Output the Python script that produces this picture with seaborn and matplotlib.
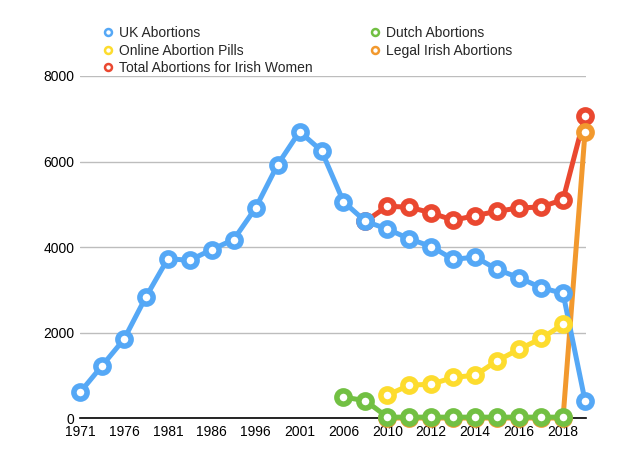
import numpy as np
import pandas as pd
import matplotlib
matplotlib.use("Agg")
import matplotlib.pyplot as plt
import seaborn as sns
from matplotlib.lines import Line2D

# categories (every other label shown on the axis)
years = ["1971", "1974", "1976", "1979", "1981", "1984", "1986", "1991",
         "1996", "1999", "2001", "2004", "2006", "2008", "2010", "2011",
         "2012", "2013", "2014", "2015", "2016", "2017", "2018", "2019"]

nan = np.nan
uk = [600, 1220, 1840, 2830, 3725, 3690, 3940, 4175, 4915, 5925, 6700, 6250,
      5060, 4600, 4420, 4190, 4010, 3710, 3765, 3475, 3280, 3050, 2915, 405]
dutch = [nan] * 12 + [490, 405, 20, 20, 20, 20, 20, 20, 20, 20, 20, nan]
pills = [nan] * 14 + [535, 770, 790, 950, 1000, 1340, 1610, 1860, 2190, nan]
legal = [nan] * 14 + [0, 0, 0, 0, 0, 0, 0, 0, 0, 6685]
total = [nan] * 13 + [4600, 4955, 4930, 4800, 4625, 4735, 4835, 4915, 4935,
                      5110, 7075]

df = pd.DataFrame({"idx": range(len(years)), "year": years, "uk": uk,
                   "dutch": dutch, "pills": pills, "legal": legal,
                   "total": total})

colors = {"uk": "#55A8F6", "dutch": "#72C043", "pills": "#FDDC2E",
          "legal": "#F2992E", "total": "#EA4830"}
names = {"uk": "UK Abortions", "dutch": "Dutch Abortions",
         "pills": "Online Abortion Pills", "legal": "Legal Irish Abortions",
         "total": "Total Abortions for Irish Women"}

sns.set_theme(style="white")
plt.rcParams["font.family"] = ["Liberation Sans", "DejaVu Sans"]

fig = plt.figure(figsize=(6.35, 4.62), dpi=100)
ax = fig.add_axes([0.126, 0.0952, 0.797, 0.7403])

# draw order: red under blue, orange under green
for i, key in enumerate(["total", "legal", "dutch", "uk", "pills"]):
    sns.lineplot(data=df.dropna(subset=[key]), x="idx", y=key, ax=ax,
                 color=colors[key], linewidth=3.6, marker="o",
                 markersize=9.5, markerfacecolor="white",
                 markeredgecolor=colors[key], markeredgewidth=4.0,
                 clip_on=False, zorder=3 + i)

ax.set_xlim(0, 23.05)
ax.set_ylim(0, 8000)
ax.set_yticks([0, 2000, 4000, 6000, 8000])
ax.set_xticks(df["idx"][::2])
ax.set_xticklabels(df["year"][::2])
ax.set_xlabel("")
ax.set_ylabel("")
ax.yaxis.grid(True, color="#BDBDBD", linewidth=1)
ax.xaxis.grid(False)
for s in ["left", "right", "top"]:
    ax.spines[s].set_visible(False)
ax.spines["bottom"].set_color("black")
ax.spines["bottom"].set_linewidth(1.2)
ax.spines["bottom"].set_zorder(2)
ax.tick_params(axis="both", length=0, labelsize=10, colors="black")
ax.tick_params(axis="x", pad=5)
ax.tick_params(axis="y", pad=4)

order = ["uk", "pills", "total", "dutch", "legal"]
handles = [Line2D([], [], linestyle="none", marker="o", markersize=5,
                  markerfacecolor="white", markeredgecolor=colors[k],
                  markeredgewidth=1.8) for k in order]
fig.legend(handles, [names[k] for k in order], ncol=2, frameon=False,
           loc="upper left", bbox_to_anchor=(0.15, 0.955), fontsize=10,
           labelspacing=0.25, handletextpad=0.3, columnspacing=4.0,
           handlelength=1.0, borderaxespad=0)

fig.savefig("out.png", dpi=100)
